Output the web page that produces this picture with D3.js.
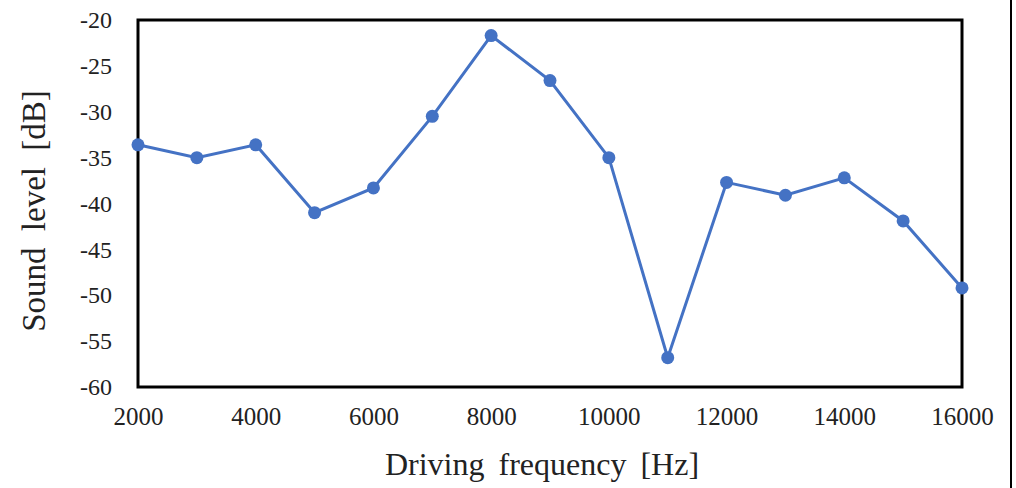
<!DOCTYPE html>
<html><head><meta charset="utf-8">
<script src="https://cdn.jsdelivr.net/npm/d3@7"></script>
<style>html,body{margin:0;padding:0;background:#fff;}svg{display:block;}</style>
</head><body>
<svg id="c" width="1016" height="488"></svg>
<script>
const frequencies = [2000,3000,4000,5000,6000,7000,8000,9000,10000,11000,12000,13000,14000,15000,16000];
const soundLevels = [-33.6,-35.0,-33.6,-41.0,-38.3,-30.5,-21.7,-26.6,-35.0,-56.8,-37.7,-39.1,-37.2,-41.9,-49.2];
const xTicks = [2000,4000,6000,8000,10000,12000,14000,16000];
const yTicks = [-60,-55,-50,-45,-40,-35,-30,-25,-20];

const svg = d3.select('#c');
const L=138,R=962,T=20,B=387;
const x = d3.scaleLinear().domain([2000,16000]).range([L,R]);
const y = d3.scaleLinear().domain([-60,-20]).range([B,T]);
const font = "'Liberation Serif','Times New Roman',serif";
const fmt = d => String(d);

svg.append('g').attr('transform',`translate(0,${B})`)
  .call(d3.axisBottom(x).tickValues(xTicks).tickSize(0).tickPadding(20).tickFormat(fmt))
  .call(g=>g.select('.domain').remove())
  .call(g=>g.selectAll('text').attr('font-family',font).attr('font-size',25).attr('fill','#222'));
svg.append('g').attr('transform',`translate(${L},0)`)
  .call(d3.axisLeft(y).tickValues(yTicks).tickSize(0).tickPadding(26).tickFormat(fmt))
  .call(g=>g.select('.domain').remove())
  .call(g=>g.selectAll('text').attr('font-family',font).attr('font-size',24).attr('fill','#222'));

svg.append('rect').attr('x',L).attr('y',T).attr('width',R-L).attr('height',B-T)
  .attr('fill','none').attr('stroke','#000').attr('stroke-width',3);

svg.append('line').attr('x1',1011).attr('x2',1011).attr('y1',0).attr('y2',488)
  .attr('stroke','#000').attr('stroke-width',2);

const data = frequencies.map((f,i)=>({f,v:soundLevels[i]}));
svg.append('path').datum(data)
  .attr('d',d3.line().x(d=>x(d.f)).y(d=>y(d.v)))
  .attr('fill','none').attr('stroke','#4472C4').attr('stroke-width',3);
svg.selectAll('circle.pt').data(data).join('circle')
  .attr('cx',d=>x(d.f)).attr('cy',d=>y(d.v)).attr('r',6.5).attr('fill','#4472C4');

svg.append('text').attr('x',542).attr('y',475).attr('text-anchor','middle')
  .attr('font-family',font).attr('font-size',32).attr('word-spacing',6).attr('fill','#222').text('Driving frequency [Hz]');
svg.append('text').attr('transform',`translate(45,211) rotate(-90)`).attr('text-anchor','middle')
  .attr('font-family',font).attr('font-size',33).attr('word-spacing',8).attr('fill','#222').text('Sound level [dB]');
</script>
</body></html>
